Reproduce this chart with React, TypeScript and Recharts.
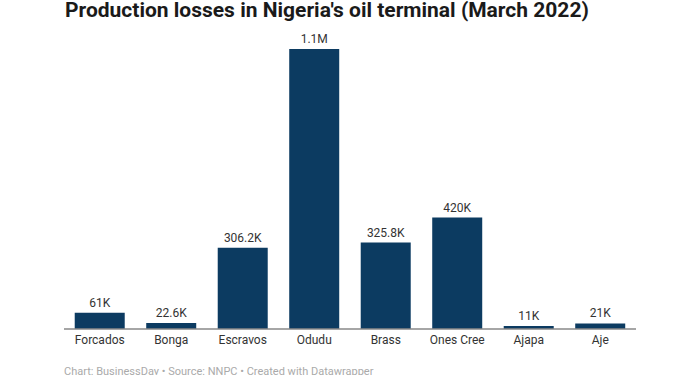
import React from "react";
import { BarChart, Bar, XAxis, YAxis, LabelList } from "recharts";

const categories = ["Forcados", "Bonga", "Escravos", "Odudu", "Brass", "Ones Cree", "Ajapa", "Aje"];
const losses = [61000, 22600, 306200, 1055000, 325800, 420000, 11000, 21000];

const data = categories.map((name, i) => ({ name, value: losses[i] }));

const fmt = (v: number) => {
  if (v >= 1e6) return (v / 1e6).toFixed(1).replace(/\.0$/, "") + "M";
  return (Math.round(v / 100) / 10).toString() + "K";
};

const font = "Roboto, 'Noto Sans', sans-serif";

export default function App() {
  return (
    <div style={{ position: "absolute", left: 0, top: 0, width: 700, height: 375, background: "#fff", overflow: "hidden", fontFamily: font }}>
      <div style={{ position: "absolute", left: 65, top: 0, fontSize: 21, lineHeight: "21px", fontWeight: 700, color: "#1a1a1a", whiteSpace: "nowrap" }}>
        Production losses in Nigeria's oil terminal (March 2022)
      </div>
      <BarChart width={700} height={375} data={data} margin={{ top: 49, right: 64, bottom: 16, left: 64 }} barCategoryGap="15%">
        <XAxis
          dataKey="name"
          height={30}
          tickLine={false}
          axisLine={{ stroke: "#888", strokeWidth: 1.5 }}
          tick={{ fill: "#333", fontSize: 12, fontFamily: font }}
          tickMargin={0}
          interval={0}
        />
        <YAxis hide domain={[0, 1055000]} />
        <Bar dataKey="value" fill="#0c3b61" isAnimationActive={false}>
          <LabelList dataKey="value" position="top" offset={6} formatter={(v: any) => fmt(Number(v))} style={{ fill: "#333", fontSize: 12, fontFamily: font }} />
        </Bar>
      </BarChart>
      <div style={{ position: "absolute", left: 64, top: 365, fontSize: 11, color: "#aaa", whiteSpace: "nowrap" }}>
        Chart: BusinessDay • Source: NNPC • Created with Datawrapper
      </div>
    </div>
  );
}
